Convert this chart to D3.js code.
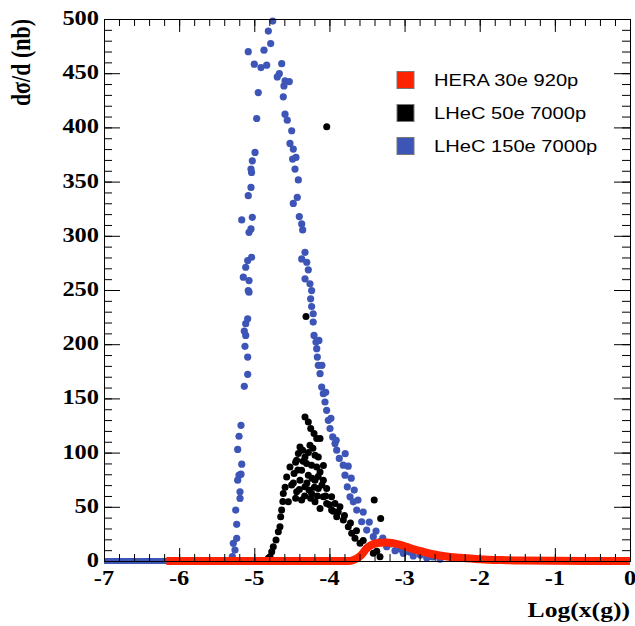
<!DOCTYPE html>
<html>
<head>
<meta charset="utf-8">
<script src="https://cdn.jsdelivr.net/npm/d3@7"></script>
<style>
body { margin: 0; background: #fff; }
</style>
</head>
<body>
<div id="chart"></div>
<script>
// series names and colours
var seriesNames = ["HERA 30e 920p", "LHeC 50e 7000p", "LHeC 150e 7000p"];
var seriesColors = ["#ff2200", "#000000", "#3d55b6"];

var xTickVals = [-7, -6, -5, -4, -3, -2, -1, 0];
var yTickVals = [0, 50, 100, 150, 200, 250, 300, 350, 400, 450, 500];

// HERA 30e 920p (dense band, drawn as thick line)
var heraX = [-6.17, -3.75, -3.68, -3.59, -3.50, -3.42, -3.33, -3.24, -3.15, -3.06, -2.97, -2.86, -2.75, -2.62, -2.44, -2.26, -2.00, -1.73, -1.46, 0];
var heraY = [0, 0, 1, 4.5, 12.0, 15.5, 16.8, 17.0, 16.5, 15.0, 13.0, 10.5, 8.5, 6.2, 4.1, 3.0, 1.7, 0.9, 0.4, 0];

// LHeC 50e 7000p
var lhec50X = [-4.312, -4.036, -4.325, -4.281, -4.249, -4.205, -4.169, -4.125, -4.392, -4.356, -4.414, -4.325, -4.192, -4.148,
  -4.437, -4.304, -4.525, -4.370, -4.237, -4.169, -4.125, -4.471, -4.281, -4.569, -4.392, -4.192, -4.081, -4.503, -4.325,
  -4.148, -4.037, -4.614, -4.436, -4.237, -4.081, -3.971, -4.547, -4.370, -4.192, -4.037, -3.926, -4.636, -4.125, -3.971,
  -3.883, -3.404, -4.649, -3.903, -3.815, -3.318, -4.658, -4.680, -3.749, -3.704, -4.711, -3.660, -3.593, -4.747, -3.504,
  -4.768, -3.416, -4.791, -3.327, -4.813, -4.259, -4.450, -4.232, -4.272,
  -4.48, -4.42, -4.35, -4.28, -4.22, -4.30, -4.25, -4.16, -4.10, -4.05, -4.00, -3.95, -4.45, -4.40, -4.33, -4.20, -4.15,
  -4.08, -4.59, -4.62, -3.86, -3.80, -3.72, -3.64, -3.55, -3.46, -3.37];
var lhec50Y = [225.6, 400.6, 132.9, 128.3, 122.2, 117.6, 113.0, 113.0, 105.2, 102.2, 99.2, 96.0, 97.6, 96.0,
  93.0, 90.0, 86.8, 83.8, 88.4, 86.8, 82.2, 80.8, 79.2, 77.6, 74.6, 74.6, 74.6, 70.0, 68.4,
  66.9, 66.9, 62.3, 63.8, 62.3, 59.2, 59.2, 54.6, 56.2, 54.6, 53.1, 53.1, 47.0, 48.5, 47.0,
  45.4, 56.2, 40.8, 40.8, 37.8, 39.3, 31.6, 27.0, 31.6, 25.5, 19.3, 20.9, 16.3, 13.2, 11.7,
  8.6, 7.1, 4.0, 4.0, 2.5, 106.8, 91.2, 76.4, 65.4,
  72, 84, 92, 100, 104, 72, 58, 60, 70, 60, 52, 46, 58, 66, 60, 68, 78,
  88, 68, 55, 50, 42, 35, 28, 19, 14, 9];

// LHeC 150e 7000p
var lhec150X = [-5.292, -5.257, -5.279, -5.234, -5.234, -5.247, -5.190, -5.190, -5.221, -5.177, -5.203, -5.167, -5.221,
  -5.203, -5.177, -5.133, -5.088, -5.088, -5.124, -5.114, -5.133, -5.114, -5.088, -5.070, -5.080, -5.070, -5.146, -5.114,
  -5.088, -5.036, -5.070, -5.044, -5.026, -5.167, -5.080, -5.044, -5.036, -5.044, -5.026, -4.990, -4.968, -4.947, -5.000,
  -4.911, -4.835, -5.080, -4.871, -4.782, -4.813, -4.755,
  -4.635, -4.667, -4.694, -4.591, -4.534, -4.605, -4.614, -4.591, -4.561, -4.502, -4.525, -4.481, -4.445, -4.490, -4.458,
  -4.414, -4.428, -4.481, -4.401, -4.369, -4.356, -4.325, -4.369, -4.302, -4.281, -4.325, -4.259, -4.237, -4.250, -4.237,
  -4.216, -4.216, -4.205, -4.179, -4.169, -4.161, -4.148, -4.125, -4.103, -4.081, -4.059, -4.037, -4.015, -3.992, -3.956,
  -3.926, -3.903, -3.869, -3.816, -3.793, -3.762, -3.726, -3.682, -3.637, -3.571, -3.504, -3.416, -3.327, -3.238, -3.127,
  -3.017, -2.884, -2.705, -2.528,
  -4.14, -4.10, -4.05, -3.98, -3.91, -3.79, -3.75, -3.71, -3.67, -3.62, -3.55, -3.47, -3.38, -3.29, -3.18, -3.06, -2.93,
  -2.79, -2.63];
var lhec150Y = [4.0, 10.1, 16.3, 20.9, 33.8, 47.0, 57.7, 63.8, 74.6, 80.1, 79.2, 89.3, 102.9,
  115.1, 125.2, 161.1, 172.2, 188.1, 198.0, 208.1, 212.1, 218.9, 223.5, 248.0, 249.5, 258.7, 261.8, 271.0,
  277.2, 280.2, 303.2, 306.3, 317.0, 314.6, 337.0, 344.6, 358.5, 361.6, 369.2, 376.9, 408.2, 432.1, 458.3,
  455.2, 457.4, 469.9, 471.2, 477.3, 488.9, 498.1,
  458.8, 449.6, 446.6, 442.9, 442.3, 438.3, 428.2, 412.2, 406.7, 396.9, 385.2, 380.0, 372.3, 370.8, 361.6,
  351.5, 335.4, 329.9, 317.7, 311.0, 305.4, 284.8, 278.7, 275.6, 268.6, 260.3, 255.7, 249.5, 241.9, 234.8,
  228.1, 220.4, 208.1, 202.0, 195.9, 188.1, 180.5, 172.8, 160.5, 154.4, 146.7, 139.0, 129.8, 122.2, 114.5,
  108.4, 102.2, 94.6, 88.4, 79.2, 68.4, 59.2, 54.6, 47.0, 36.2, 28.5, 22.4, 17.8, 13.2, 9.5,
  7.1, 4.6, 2.8, 1.6,
  203.5, 180.5, 155.6, 131.7, 111.4, 99, 87.5, 76.4, 65.4, 56.2, 45.1, 35.9, 27.6, 21.2, 15.7, 11.0, 8.3,
  5.5, 3.7];
// zero-valued range of the 150e series visible left of the HERA band
var lhec150ZeroX = [-7, -5.3];

var width = 635, height = 626;
var mLeft = 104, mRight = 630, mTop = 19, mBottom = 561;
var stretch = 1.22;

var svg = d3.select("#chart").append("svg")
  .attr("width", width)
  .attr("height", height)
  .style("background", "#fff");

var x = d3.scaleLinear().domain([-7, 0]).range([mLeft, mRight]);
var y = d3.scaleLinear().domain([0, 500]).range([mBottom, mTop]);

function stext(px, py, str, anchor, font, size, rot) {
  var g = svg.append("g")
    .attr("transform", "translate(" + px + "," + py + ") scale(" + stretch + ",1)" + (rot ? " rotate(" + rot + ")" : ""));
  return g.append("text")
    .attr("text-anchor", anchor)
    .attr("font-family", font)
    .attr("font-size", size + "px")
    .attr("font-weight", font.indexOf("Serif") >= 0 ? "bold" : "normal")
    .attr("fill", "#000")
    .text(str);
}

var plot = svg.append("g");

// data: blue zero line, black, blue, red
plot.append("line")
  .attr("x1", x(lhec150ZeroX[0])).attr("x2", x(lhec150ZeroX[1]))
  .attr("y1", y(0)).attr("y2", y(0))
  .attr("stroke", seriesColors[2]).attr("stroke-width", 6);

plot.selectAll(".p50").data(d3.range(lhec50X.length)).enter()
  .append("circle")
  .attr("cx", function(i) { return x(lhec50X[i]); })
  .attr("cy", function(i) { return y(lhec50Y[i]); })
  .attr("r", 3.5)
  .attr("fill", seriesColors[1]);

plot.selectAll(".p150").data(d3.range(lhec150X.length)).enter()
  .append("circle")
  .attr("cx", function(i) { return x(lhec150X[i]); })
  .attr("cy", function(i) { return y(lhec150Y[i]); })
  .attr("r", 3.6)
  .attr("fill", seriesColors[2]);

var heraLine = d3.line()
  .x(function(i) { return x(heraX[i]); })
  .y(function(i) { return y(heraY[i]); })
  .curve(d3.curveMonotoneX);

plot.append("path")
  .attr("d", heraLine(d3.range(heraX.length)))
  .attr("fill", "none")
  .attr("stroke", seriesColors[0])
  .attr("stroke-width", 8)
  .attr("stroke-linecap", "butt");

// axes (ticks inward on all sides)
function styleAxis(g) {
  g.selectAll("path, line").attr("stroke", "#000").attr("stroke-width", 1);
  g.selectAll("text").remove();
}

svg.append("g").attr("transform", "translate(0," + mBottom + ")")
  .call(d3.axisBottom(x).tickValues(x.ticks(35)).tickSize(-7).tickSizeOuter(0).tickFormat(""))
  .call(styleAxis);
svg.append("g").attr("transform", "translate(0," + mBottom + ")")
  .call(d3.axisBottom(x).tickValues(xTickVals).tickSize(-13).tickSizeOuter(0).tickFormat(""))
  .call(styleAxis);
svg.append("g").attr("transform", "translate(0," + mTop + ")")
  .call(d3.axisTop(x).tickValues(x.ticks(35)).tickSize(-7).tickSizeOuter(0).tickFormat(""))
  .call(styleAxis);
svg.append("g").attr("transform", "translate(0," + mTop + ")")
  .call(d3.axisTop(x).tickValues(xTickVals).tickSize(-13).tickSizeOuter(0).tickFormat(""))
  .call(styleAxis);
svg.append("g").attr("transform", "translate(" + mLeft + ",0)")
  .call(d3.axisLeft(y).tickValues(y.ticks(50)).tickSize(-8).tickSizeOuter(0).tickFormat(""))
  .call(styleAxis);
svg.append("g").attr("transform", "translate(" + mLeft + ",0)")
  .call(d3.axisLeft(y).tickValues(yTickVals).tickSize(-16).tickSizeOuter(0).tickFormat(""))
  .call(styleAxis);
svg.append("g").attr("transform", "translate(" + mRight + ",0)")
  .call(d3.axisRight(y).tickValues(y.ticks(50)).tickSize(-8).tickSizeOuter(0).tickFormat(""))
  .call(styleAxis);
svg.append("g").attr("transform", "translate(" + mRight + ",0)")
  .call(d3.axisRight(y).tickValues(yTickVals).tickSize(-16).tickSizeOuter(0).tickFormat(""))
  .call(styleAxis);

// tick labels
var serif = "Liberation Serif, Times New Roman, serif";
var sans = "Liberation Sans, Arial, sans-serif";
xTickVals.forEach(function(v) {
  stext(x(v), 585, String(v), "middle", serif, 20);
});
yTickVals.forEach(function(v) {
  stext(mLeft - 5, y(v) + 6, String(v), "end", serif, 20);
});

// axis titles
stext(mRight, 617, "Log(x(g))", "end", serif, 21);
stext(30, mTop, "d\u03c3/d (nb)", "end", serif, 22, -90);

// legend
var legY = [80, 113, 146];
seriesNames.forEach(function(name, i) {
  svg.append("rect")
    .attr("x", 397).attr("y", legY[i] - 8.5)
    .attr("width", 17).attr("height", 17)
    .attr("fill", seriesColors[i])
    .attr("stroke", "#777").attr("stroke-width", 1);
  stext(434, legY[i] + 6, name, "start", sans, 16.5);
});
</script>
</body>
</html>
